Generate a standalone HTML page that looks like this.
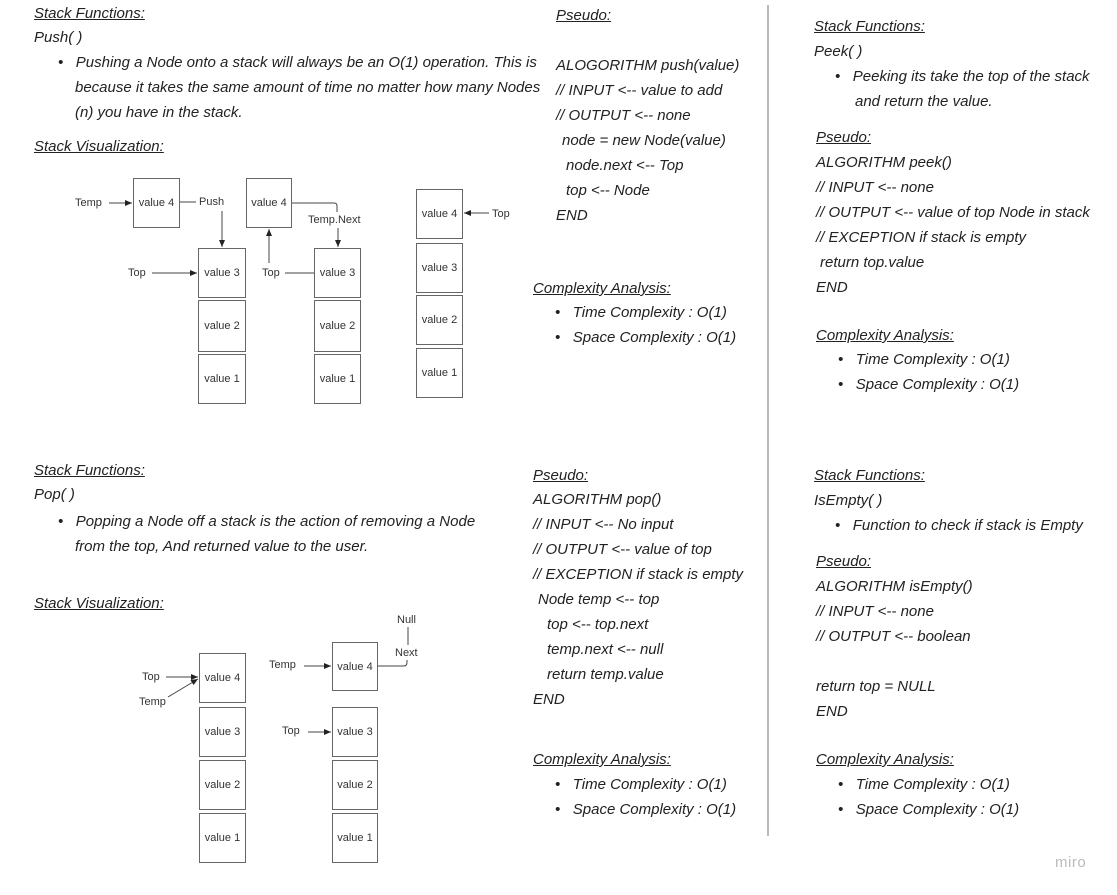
<!DOCTYPE html>
<html><head><meta charset="utf-8"><style>
body{margin:0;width:1117px;height:895px;background:#fff;position:relative;overflow:hidden;font-family:"Liberation Sans",sans-serif;}
.t{position:absolute;font-style:italic;font-size:15px;line-height:18px;color:#222;white-space:nowrap;}
.h{text-decoration:underline;}
.b{position:absolute;border:1.5px solid #666;box-sizing:border-box;font-size:11px;color:#333;display:flex;align-items:center;justify-content:center;}
.l{position:absolute;font-size:11px;color:#333;white-space:nowrap;line-height:14px;}
svg{position:absolute;left:0;top:0;}
</style></head><body>
<div class="t h" style="left:34px;top:5px">Stack Functions:</div>
<div class="t" style="left:34px;top:29px">Push( )</div>
<div class="t" style="left:58px;top:54px">•&nbsp;&nbsp;&nbsp;Pushing a Node onto a stack will always be an O(1) operation. This is</div>
<div class="t" style="left:75px;top:79px">because it takes the same amount of time no matter how many Nodes</div>
<div class="t" style="left:75px;top:104px">(n) you have in the stack.</div>
<div class="t h" style="left:34px;top:138px">Stack Visualization:</div>

<div class="b" style="left:133px;top:178px;width:47px;height:50px">value 4</div>
<div class="b" style="left:198px;top:248px;width:48px;height:50px">value 3</div>
<div class="b" style="left:198px;top:300px;width:48px;height:52px">value 2</div>
<div class="b" style="left:198px;top:354px;width:48px;height:50px">value 1</div>
<div class="b" style="left:246px;top:178px;width:46px;height:50px">value 4</div>
<div class="b" style="left:314px;top:248px;width:47px;height:50px">value 3</div>
<div class="b" style="left:314px;top:300px;width:47px;height:52px">value 2</div>
<div class="b" style="left:314px;top:354px;width:47px;height:50px">value 1</div>
<div class="b" style="left:416px;top:189px;width:47px;height:50px">value 4</div>
<div class="b" style="left:416px;top:243px;width:47px;height:50px">value 3</div>
<div class="b" style="left:416px;top:295px;width:47px;height:50px">value 2</div>
<div class="b" style="left:416px;top:348px;width:47px;height:50px">value 1</div>
<div class="l" style="left:75px;top:196px">Temp</div>
<div class="l" style="left:199px;top:195px">Push</div>
<div class="l" style="left:308px;top:213px">Temp.Next</div>
<div class="l" style="left:128px;top:266px">Top</div>
<div class="l" style="left:262px;top:266px">Top</div>
<div class="l" style="left:492px;top:207px">Top</div>

<div class="t h" style="left:34px;top:462px">Stack Functions:</div>
<div class="t" style="left:34px;top:486px">Pop( )</div>
<div class="t" style="left:58px;top:513px">•&nbsp;&nbsp;&nbsp;Popping a Node off a stack is the action of removing a Node</div>
<div class="t" style="left:75px;top:538px">from the top, And returned value to the user.</div>
<div class="t h" style="left:34px;top:595px">Stack Visualization:</div>

<div class="b" style="left:199px;top:653px;width:47px;height:50px">value 4</div>
<div class="b" style="left:199px;top:707px;width:47px;height:50px">value 3</div>
<div class="b" style="left:199px;top:760px;width:47px;height:50px">value 2</div>
<div class="b" style="left:199px;top:813px;width:47px;height:50px">value 1</div>
<div class="b" style="left:332px;top:642px;width:46px;height:49px">value 4</div>
<div class="b" style="left:332px;top:707px;width:46px;height:50px">value 3</div>
<div class="b" style="left:332px;top:760px;width:46px;height:50px">value 2</div>
<div class="b" style="left:332px;top:813px;width:46px;height:50px">value 1</div>
<div class="l" style="left:142px;top:670px">Top</div>
<div class="l" style="left:139px;top:695px">Temp</div>
<div class="l" style="left:269px;top:658px">Temp</div>
<div class="l" style="left:282px;top:724px">Top</div>
<div class="l" style="left:397px;top:613px">Null</div>
<div class="l" style="left:395px;top:646px">Next</div>

<svg width="1117" height="895">
<defs><marker id="a" markerWidth="8" markerHeight="8" refX="7" refY="3" orient="auto"><path d="M0,0 L7,3 L0,6z" fill="#222"/></marker></defs>
<g stroke="#444" stroke-width="1" fill="none">
<line x1="109" y1="203" x2="132" y2="203" marker-end="url(#a)"/>
<line x1="180" y1="202" x2="196" y2="202"/>
<line x1="222" y1="211" x2="222" y2="247" marker-end="url(#a)"/>
<line x1="152" y1="273" x2="197" y2="273" marker-end="url(#a)"/>
<path d="M292,203 H334 Q337,203 337,206 V212"/>
<line x1="338" y1="228" x2="338" y2="247" marker-end="url(#a)"/>
<line x1="269" y1="263" x2="269" y2="229" marker-end="url(#a)"/>
<line x1="285" y1="273" x2="314" y2="273"/>
<line x1="489" y1="213" x2="464" y2="213" marker-end="url(#a)"/>
<line x1="166" y1="677" x2="198" y2="677" marker-end="url(#a)"/>
<line x1="168" y1="697" x2="198" y2="679" marker-end="url(#a)"/>
<line x1="304" y1="666" x2="331" y2="666" marker-end="url(#a)"/>
<line x1="308" y1="732" x2="331" y2="732" marker-end="url(#a)"/>
<path d="M378,666 H404 Q407,666 407,662 V660"/>
<line x1="408" y1="627" x2="408" y2="645"/>
<line x1="768" y1="5" x2="768" y2="836" stroke="#777"/>
</g>
</svg>

<div class="t h" style="left:556px;top:7px">Pseudo:</div>
<div class="t" style="left:556px;top:57px">ALOGORITHM push(value)</div>
<div class="t" style="left:556px;top:82px">// INPUT &lt;-- value to add</div>
<div class="t" style="left:556px;top:107px">// OUTPUT &lt;-- none</div>
<div class="t" style="left:562px;top:132px">node = new Node(value)</div>
<div class="t" style="left:566px;top:157px">node.next &lt;-- Top</div>
<div class="t" style="left:566px;top:182px">top &lt;-- Node</div>
<div class="t" style="left:556px;top:207px">END</div>
<div class="t h" style="left:533px;top:280px">Complexity Analysis:</div>
<div class="t" style="left:555px;top:304px">•&nbsp;&nbsp;&nbsp;Time Complexity : O(1)</div>
<div class="t" style="left:555px;top:329px">•&nbsp;&nbsp;&nbsp;Space Complexity : O(1)</div>

<div class="t h" style="left:533px;top:467px">Pseudo:</div>
<div class="t" style="left:533px;top:491px">ALGORITHM pop()</div>
<div class="t" style="left:533px;top:516px">// INPUT &lt;-- No input</div>
<div class="t" style="left:533px;top:541px">// OUTPUT &lt;-- value of top</div>
<div class="t" style="left:533px;top:566px">// EXCEPTION if stack is empty</div>
<div class="t" style="left:538px;top:591px">Node temp &lt;-- top</div>
<div class="t" style="left:547px;top:616px">top &lt;-- top.next</div>
<div class="t" style="left:547px;top:641px">temp.next &lt;-- null</div>
<div class="t" style="left:547px;top:666px">return temp.value</div>
<div class="t" style="left:533px;top:691px">END</div>
<div class="t h" style="left:533px;top:751px">Complexity Analysis:</div>
<div class="t" style="left:555px;top:776px">•&nbsp;&nbsp;&nbsp;Time Complexity : O(1)</div>
<div class="t" style="left:555px;top:801px">•&nbsp;&nbsp;&nbsp;Space Complexity : O(1)</div>

<div class="t h" style="left:814px;top:18px">Stack Functions:</div>
<div class="t" style="left:814px;top:43px">Peek( )</div>
<div class="t" style="left:835px;top:68px">•&nbsp;&nbsp;&nbsp;Peeking its take the top of the stack</div>
<div class="t" style="left:855px;top:93px">and return the value.</div>
<div class="t h" style="left:816px;top:129px">Pseudo:</div>
<div class="t" style="left:816px;top:154px">ALGORITHM peek()</div>
<div class="t" style="left:816px;top:179px">// INPUT &lt;-- none</div>
<div class="t" style="left:816px;top:204px">// OUTPUT &lt;-- value of top Node in stack</div>
<div class="t" style="left:816px;top:229px">// EXCEPTION if stack is empty</div>
<div class="t" style="left:820px;top:254px">return top.value</div>
<div class="t" style="left:816px;top:279px">END</div>
<div class="t h" style="left:816px;top:327px">Complexity Analysis:</div>
<div class="t" style="left:838px;top:351px">•&nbsp;&nbsp;&nbsp;Time Complexity : O(1)</div>
<div class="t" style="left:838px;top:376px">•&nbsp;&nbsp;&nbsp;Space Complexity : O(1)</div>

<div class="t h" style="left:814px;top:467px">Stack Functions:</div>
<div class="t" style="left:814px;top:492px">IsEmpty( )</div>
<div class="t" style="left:835px;top:517px">•&nbsp;&nbsp;&nbsp;Function to check if stack is Empty</div>
<div class="t h" style="left:816px;top:553px">Pseudo:</div>
<div class="t" style="left:816px;top:578px">ALGORITHM isEmpty()</div>
<div class="t" style="left:816px;top:603px">// INPUT &lt;-- none</div>
<div class="t" style="left:816px;top:628px">// OUTPUT &lt;-- boolean</div>
<div class="t" style="left:816px;top:678px">return top = NULL</div>
<div class="t" style="left:816px;top:703px">END</div>
<div class="t h" style="left:816px;top:751px">Complexity Analysis:</div>
<div class="t" style="left:838px;top:776px">•&nbsp;&nbsp;&nbsp;Time Complexity : O(1)</div>
<div class="t" style="left:838px;top:801px">•&nbsp;&nbsp;&nbsp;Space Complexity : O(1)</div>

<div style="position:absolute;left:1055px;top:854px;font-size:15px;color:#bbb;letter-spacing:0.5px">miro</div>
</body></html>
